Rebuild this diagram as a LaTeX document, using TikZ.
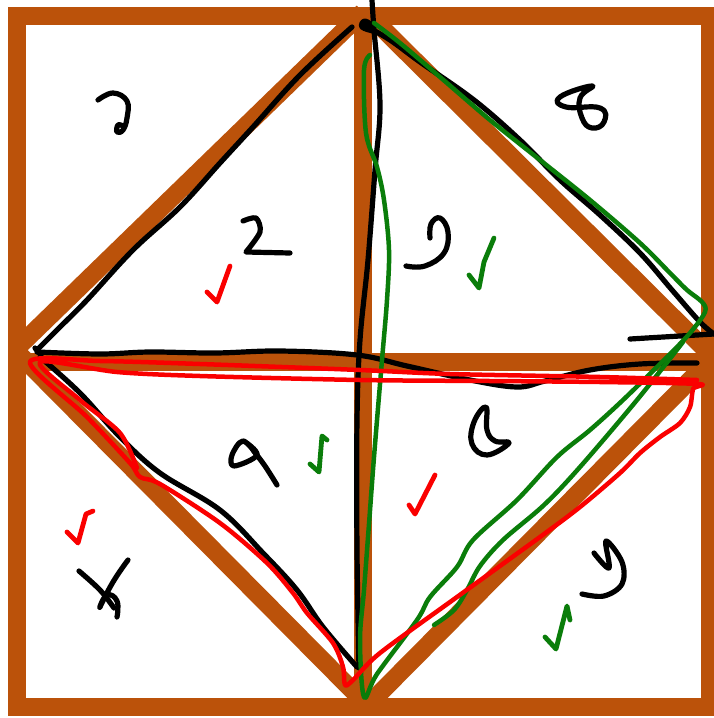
\documentclass[tikz,border=0pt]{standalone}
\usepackage{tikz}
\usetikzlibrary{calc}
\definecolor{woodbrown}{RGB}{187,82,10}
\definecolor{penred}{RGB}{250,0,0}
\definecolor{pengreen}{RGB}{10,125,10}
\begin{document}
\begin{tikzpicture}[
  x=1pt, y=-1pt,
  bar/.style={draw=woodbrown, line width=18pt, line join=miter},
  ink/.style={draw=black, line width=5.2pt, line cap=round, line join=round},
  redpen/.style={draw=penred, line width=4.5pt, line cap=round, line join=round},
  greenpen/.style={draw=pengreen, line width=4.5pt, line cap=round, line join=round},
  tick/.style={line width=4.8pt, line cap=round, line join=round}
]
\useasboundingbox (0,0) rectangle (714,718);
\fill[white] (0,0) rectangle (714,718);

% frame, cross and diamond
\coordinate (TL) at (17,16);
\coordinate (BR) at (710,707);
\draw[bar] (TL) rectangle (BR);
\draw[bar] (363,16) -- (363,707);
\draw[bar] (17,362) -- (710,362);
\draw[bar, line cap=butt] (363,12) -- (15,350);
\draw[bar, line cap=butt] (368,14) -- (712,356);
\draw[bar, line cap=butt] (15,350) -- (362,700);
\draw[bar, line cap=butt] (712,358) -- (368,705);

% black strokes
\draw[ink] plot[smooth, tension=0.6] coordinates {(352,27) (300,75) (253,127) (220,163) (180,207) (133,250) (87,300) (60,327) (37,350)};
\draw[ink] (35,348) -- (41,355);
\draw[ink] plot[smooth, tension=0.6] coordinates {(37,352) (100,354) (150,352) (215,353) (280,351) (357,355) (407,366) (470,380) (517,387) (545,381) (590,370) (640,364) (697,363)};
\draw[ink] plot[smooth, tension=0.6] coordinates {(40,357) (80,393) (120,437) (160,473) (220,510) (263,553) (297,590) (323,627) (357,667)};
\draw[ink] plot[smooth, tension=0.6] coordinates {(372,0) (374,30) (380,105) (375,170) (368,260) (360,340) (357,420) (357,550) (359,668)};
\draw[ink] plot[smooth, tension=0.7] coordinates {(373,31) (362,27) (365,21) (374,27)};
\draw[ink] plot[smooth, tension=0.6] coordinates {(364,25) (390,40) (420,62) (474,100) (520,140) (560,180) (600,215) (640,253) (672,290) (700,322) (714,334)};
\draw[ink] plot[smooth, tension=0.6] coordinates {(630,339) (680,336) (714,334)};

% green loop
\draw[greenpen] plot[smooth, tension=0.55] coordinates {(370,55) (364,70) (366,133) (377,167) (384,200) (389,250) (387,300) (382,360) (374,457) (369,524) (364,590) (360,640) (364,697) (377,674) (417,620) (430,597) (457,567) (473,540) (517,500) (557,457) (590,430) (623,400) (667,357) (690,333) (705,312) (702,302) (687,290) (670,273) (640,243) (590,200) (540,160) (490,120) (440,77) (400,43) (374,23)};
\draw[greenpen] plot[smooth, tension=0.55] coordinates {(683,342) (637,400) (580,467) (544,505) (503,540) (480,566) (467,590) (454,610) (434,625)};

% red loop
\draw[redpen] plot[smooth, tension=0.5] coordinates {(697,380) (600,377) (450,374) (360,370) (200,364) (100,361) (30,362) (87,417) (130,463) (140,477) (160,484) (220,523) (267,563) (293,593) (307,613) (333,643) (343,667) (345,685) (353,680) (380,653) (457,597) (540,537) (580,507) (620,473) (640,453) (660,437) (680,423) (690,407) (693,389) (698,384) (600,382) (490,381) (360,380) (200,376) (117,372) (40,362) (80,400) (120,433) (137,468)};

% handwritten marks
\draw[ink] plot[smooth, tension=0.7] coordinates {(98,100) (113,93) (127,101) (127,118) (123,130) (117,132) (118,125) (123,126)};
\draw[ink] plot[smooth, tension=0.5] coordinates {(243,221) (256,218) (260,232) (246,252)} -- (290,253);
\draw[ink] plot[smooth cycle, tension=0.8] coordinates {(592,86) (560,97) (566,107) (600,108) (604,122) (592,128) (582,118) (580,98)};
\draw[ink] plot[smooth, tension=0.7] coordinates {(430,238) (431,224) (440,218) (448,232) (444,253) (425,266) (406,266)};
\draw[ink] plot[smooth, tension=0.6] coordinates {(257,455) (243,441) (232,455) (234,466) (257,455) (244,441)};
\draw[ink] plot[smooth, tension=0.6] coordinates {(253,450) (265,466) (277,485)};
\draw[ink] plot[smooth, tension=0.6] coordinates {(79,571) (100,590) (114,608)};
\draw[ink] plot[smooth, tension=0.8] coordinates {(128,560) (113,582) (100,607) (107,595) (117,601) (117,617)};
\draw[ink] plot[smooth cycle, tension=0.7] coordinates {(486,407) (474,422) (472,444) (487,455) (509,443) (495,441) (487,430)};
\draw[ink] plot[smooth, tension=0.6] coordinates {(594,553) (609,568) (606,541) (622,562) (622,584) (604,596) (582,594)};

% check marks
\draw[redpen, tick] (207,292) -- (217,302) -- (230,266);
\draw[greenpen, tick] (469,275) -- (479,288) -- (484,262) -- (494,238);
\draw[greenpen, tick] (310,464) -- (319,472) -- (322,436) -- (327,440);
\draw[redpen, tick] (67,532) -- (78,543) -- (86,514) -- (93,511);
\draw[redpen, tick] (409,505) -- (415,514) -- (435,475);
\draw[greenpen, tick] (545,637) -- (556,649) -- (567,606) -- (570,620);
\end{tikzpicture}
\end{document}
